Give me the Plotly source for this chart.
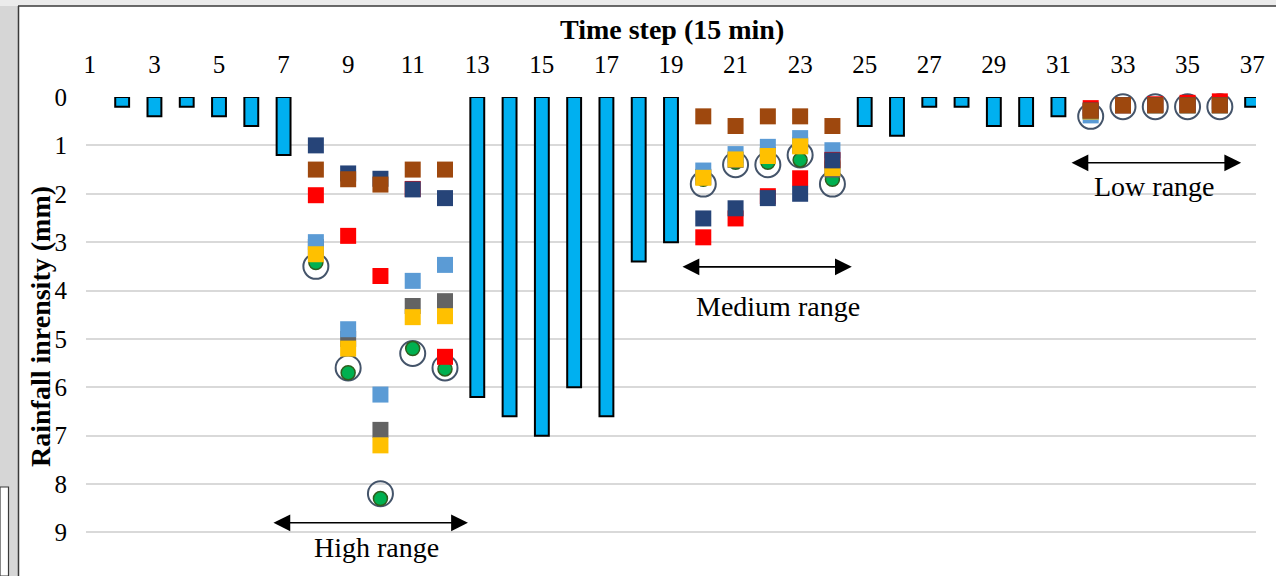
import plotly.graph_objects as go

# Rainfall hyetograph (15-min steps) with simulated/observed intensities
time_steps = list(range(1, 38))
rainfall = [None, 0.2, 0.4, 0.2, 0.4, 0.6, 1.2, None, None, None, None, None,
            6.2, 6.6, 7.0, 6.0, 6.6, 3.4, 3.0, None, None, None, None, None,
            0.6, 0.8, 0.2, 0.2, 0.6, 0.6, 0.4, None, None, None, None, None, 0.2]

marker_steps = [8, 9, 10, 11, 12, 20, 21, 22, 23, 24, 32, 33, 34, 35, 36]
observed = [3.5, 5.6, 8.2, 5.3, 5.6, 1.8, 1.4, 1.4, 1.2, 1.8, 0.4, 0.2, 0.2, 0.2, 0.2]
series_green = [3.42, 5.7, 8.3, 5.2, 5.62, 1.7, 1.35, 1.35, 1.3, 1.7, 0.3, 0.17, 0.17, 0.17, 0.17]
series_gray = [3.1, 5.0, 6.88, 4.32, 4.22, 1.65, 1.3, 1.2, 1.0, 1.5, 0.3, 0.17, 0.17, 0.17, 0.17]
series_lightblue = [3.0, 4.8, 6.15, 3.8, 3.47, 1.52, 1.18, 1.03, 0.85, 1.1, 0.38, 0.17, 0.17, 0.17, 0.17]
series_gold = [3.25, 5.2, 7.2, 4.55, 4.53, 1.67, 1.29, 1.22, 1.02, 1.47, 0.3, 0.17, 0.17, 0.17, 0.17]
series_red = [2.03, 2.87, 3.7, 1.9, 5.37, 2.9, 2.51, 2.05, 1.68, 1.3, 0.23, 0.17, 0.15, 0.12, 0.09]
series_navy = [1.0, 1.58, 1.69, 1.91, 2.09, 2.51, 2.3, 2.09, 2.0, 1.31, 0.28, 0.17, 0.17, 0.17, 0.17]
series_brown = [1.5, 1.7, 1.81, 1.5, 1.5, 0.4, 0.6, 0.4, 0.4, 0.6, 0.28, 0.17, 0.17, 0.17, 0.17]

x_ticks = list(range(1, 38, 2))
y_ticks = list(range(0, 10))

SERIF = "Liberation Serif, Times New Roman, serif"

fig = go.Figure()

fig.add_trace(go.Bar(
    x=time_steps, y=rainfall, width=0.43, name="Rainfall",
    marker=dict(color="#00B0F0", line=dict(color="black", width=2)),
))

fig.add_trace(go.Scatter(
    x=marker_steps, y=observed, mode="markers", name="Observed", cliponaxis=False,
    marker=dict(symbol="circle-open", size=25, color="#44546A", line=dict(width=2)),
))

square_series = [
    ("Series G", series_green, None),
    ("Series 2", series_gray, "#636363"),
    ("Series 3", series_lightblue, "#5B9BD5"),
    ("Series 4", series_gold, "#FFC000"),
    ("Series 5", series_red, "#FF0000"),
    ("Series 6", series_navy, "#264478"),
    ("Series 7", series_brown, "#9E480E"),
]
for name, vals, color in square_series:
    if color is None:
        fig.add_trace(go.Scatter(
            x=marker_steps, y=vals, mode="markers", name=name, cliponaxis=False,
            marker=dict(symbol="circle", size=14, color="#00B050",
                        line=dict(color="#2E5E1E", width=1.5)),
        ))
    else:
        fig.add_trace(go.Scatter(
            x=marker_steps, y=vals, mode="markers", name=name, cliponaxis=False,
            marker=dict(symbol="square", size=16, color=color, line=dict(width=0)),
        ))

# range arrows (start, end, arrow level) and their labels (x, y)
ranges = [
    ("High range", 6.64, 12.71, 8.8, 9.89, 9.32),
    ("Medium range", 19.31, 24.6, 3.51, 22.31, 4.34),
    ("Low range", 31.36, 36.66, 1.36, 33.99, 1.84),
]
annotations = []
for label, x0, x1, ya, xt, yt in ranges:
    annotations.append(dict(
        x=x1, y=ya, ax=x0, ay=ya, xref="x", yref="y", axref="x", ayref="y",
        text="", showarrow=True, arrowside="end+start", arrowhead=2,
        arrowsize=2.1, arrowwidth=1.6, arrowcolor="black",
    ))
    annotations.append(dict(
        x=xt, y=yt, xref="x", yref="y", text=label, showarrow=False,
        xanchor="center", yanchor="middle",
        font=dict(family=SERIF, size=28, color="black"),
    ))

W, H = 1276, 576
L, R, T, B = 86, 20, 97, 0
pw, ph = W - L - R, H - T - B


def px(xpix):
    return (xpix - L) / pw


def py(ypix):
    return (H - B - ypix) / ph


# axis titles
annotations.append(dict(
    x=px(672), y=py(29), xref="paper", yref="paper", xanchor="center", yanchor="middle",
    text="<b>Time step (15 min)</b>", showarrow=False,
    font=dict(family=SERIF, size=28, color="black"),
))
annotations.append(dict(
    x=px(40), y=py(327), xref="paper", yref="paper", xanchor="center", yanchor="middle",
    text="<b>Rainfall inrensity (mm)</b>", textangle=-90, showarrow=False,
    font=dict(family=SERIF, size=28, color="black"),
))

shapes = [
    dict(type="rect", xref="paper", yref="paper", x0=px(0), x1=px(18.5), y0=py(576), y1=py(0),
         fillcolor="#d6d6d6", line=dict(width=0), layer="below"),
    dict(type="rect", xref="paper", yref="paper", x0=px(0), x1=px(1276), y0=py(6), y1=py(0),
         fillcolor="#ebebeb", line=dict(width=0), layer="below"),
    dict(type="rect", xref="paper", yref="paper", x0=px(0), x1=px(8.5), y0=py(576), y1=py(487),
         fillcolor="white", line=dict(color="#3a3a3a", width=1.2), layer="below"),
    dict(type="line", xref="paper", yref="paper", x0=px(18.5), x1=px(18.5), y0=py(576), y1=py(6),
         line=dict(color="#3a3a3a", width=1.5)),
    dict(type="line", xref="paper", yref="paper", x0=px(18), x1=px(1276), y0=py(6), y1=py(6),
         line=dict(color="#3a3a3a", width=1.5)),
]

fig.update_layout(
    width=W, height=H,
    margin=dict(l=L, r=R, t=T, b=B, pad=0),
    paper_bgcolor="white", plot_bgcolor="white",
    showlegend=False, barmode="overlay",
    font=dict(family=SERIF, color="black"),
    annotations=annotations, shapes=shapes,
    xaxis=dict(
        range=[0.88, 37.12], side="top", tickmode="array", tickvals=x_ticks,
        ticktext=[str(v) for v in x_ticks], showgrid=False, zeroline=False,
        showline=False, ticks="", ticklabelstandoff=18,
        tickfont=dict(family=SERIF, size=25, color="black"),
    ),
    yaxis=dict(
        range=[9.9, 0], tickmode="array", tickvals=y_ticks,
        ticktext=[str(v) for v in y_ticks], showgrid=True, gridcolor="#d9d9d9",
        gridwidth=2, zeroline=False, showline=False, ticks="", ticklabelstandoff=18,
        tickfont=dict(family=SERIF, size=25, color="black"),
    ),
)

fig.write_html("out.html")
